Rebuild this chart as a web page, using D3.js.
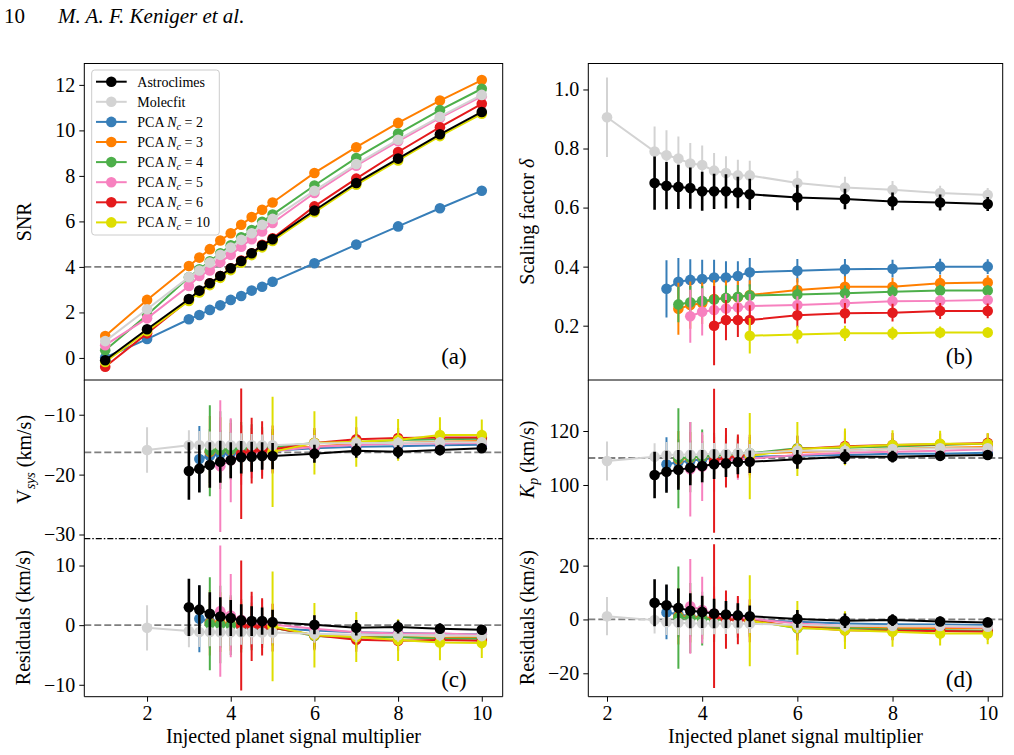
<!DOCTYPE html>
<html>
<head>
<meta charset="utf-8">
<script src="https://cdn.jsdelivr.net/npm/d3@7"></script>
<style>
    body { margin: 0; background: #fff; }
    text { font-family: "Liberation Serif", "DejaVu Serif", serif; fill: #000; }
</style>
</head>
<body>
<div id="chart"></div>
<script>

// ---- data ----
const snrMultipliers = [1, 2, 3, 3.25, 3.5, 3.75, 4, 4.25, 4.5, 4.75, 5, 6, 7, 8, 9, 10];
const multipliers = [2, 3, 3.25, 3.5, 3.75, 4, 4.25, 4.5, 4.75, 5, 6, 7, 8, 9, 10];

const seriesNames = ['Astroclimes', 'Molecfit', 'PCA', 'PCA', 'PCA', 'PCA', 'PCA', 'PCA'];
const pcaComponents = [null, null, 2, 3, 4, 5, 6, 10];
const seriesColors = ['#000000', '#d3d3d3', '#377eb8', '#ff7f00', '#4daf4a', '#f781bf', '#e41a1c', '#dede00'];
const seriesStart = [3, 2, 3.25, 3.5, 3.5, 3.75, 4.25, 5];

// (a) SNR, one row per series, on snrMultipliers
const snrValues = [
    [-0.10, 1.26, 2.59, 2.96, 3.28, 3.60, 3.94, 4.26, 4.60, 4.94, 5.22, 6.48, 7.69, 8.76, 9.83, 10.81],
    [0.74, 2.14, 3.55, 3.84, 4.19, 4.53, 4.85, 5.19, 5.48, 5.85, 6.11, 7.35, 8.52, 9.59, 10.60, 11.56],
    [0.02, 0.83, 1.70, 1.89, 2.11, 2.31, 2.55, 2.72, 2.96, 3.13, 3.35, 4.16, 4.98, 5.78, 6.58, 7.35],
    [0.96, 2.55, 4.04, 4.41, 4.78, 5.16, 5.48, 5.85, 6.19, 6.51, 6.83, 8.13, 9.26, 10.33, 11.31, 12.21],
    [0.34, 1.89, 3.55, 3.90, 4.25, 4.60, 4.95, 5.30, 5.62, 5.98, 6.30, 7.58, 8.79, 9.86, 10.89, 11.83],
    [0.56, 1.74, 3.16, 3.60, 3.84, 4.21, 4.53, 4.89, 5.22, 5.56, 5.93, 7.25, 8.45, 9.52, 10.55, 11.50],
    [-0.39, 1.08, 2.55, 2.91, 3.28, 3.60, 3.94, 4.28, 4.60, 4.97, 5.26, 6.66, 7.88, 9.05, 10.14, 11.17],
    [-0.18, 1.18, 2.50, 2.88, 3.20, 3.52, 3.86, 4.18, 4.52, 4.86, 5.14, 6.40, 7.61, 8.68, 9.75, 10.73]
];

// (b) scaling factor
const deltaValues = [
    [0.683, 0.674, 0.670, 0.666, 0.655, 0.655, 0.655, 0.651, 0.645, 0.634, 0.629, 0.621, 0.617, 0.612],
    [0.906, 0.790, 0.777, 0.766, 0.749, 0.744, 0.725, 0.717, 0.709, 0.709, 0.683, 0.668, 0.660, 0.649, 0.643],
    [0.325, 0.349, 0.355, 0.358, 0.363, 0.363, 0.368, 0.381, 0.386, 0.391, 0.393, 0.400, 0.400],
    [0.257, 0.270, 0.276, 0.290, 0.293, 0.296, 0.304, 0.321, 0.332, 0.332, 0.344, 0.346],
    [0.272, 0.279, 0.284, 0.289, 0.294, 0.298, 0.302, 0.306, 0.310, 0.315, 0.319, 0.319],
    [0.232, 0.247, 0.253, 0.258, 0.262, 0.267, 0.270, 0.276, 0.283, 0.284, 0.287],
    [0.200, 0.219, 0.219, 0.219, 0.235, 0.242, 0.244, 0.250, 0.250],
    [0.166, 0.170, 0.174, 0.174, 0.177, 0.177]
];
const deltaErrors = [
    [0.09, 0.08, 0.075, 0.07, 0.066, 0.06, 0.058, 0.053, 0.053, 0.043, 0.035, 0.03, 0.027, 0.024],
    [0.135, 0.085, 0.085, 0.075, 0.07, 0.066, 0.06, 0.057, 0.053, 0.05, 0.042, 0.036, 0.03, 0.025, 0.023],
    [0.097, 0.08, 0.07, 0.065, 0.06, 0.055, 0.05, 0.048, 0.04, 0.035, 0.03, 0.027, 0.025],
    [0.088, 0.08, 0.07, 0.065, 0.06, 0.055, 0.05, 0.04, 0.035, 0.03, 0.028, 0.025],
    [0.06, 0.055, 0.05, 0.045, 0.042, 0.04, 0.038, 0.03, 0.026, 0.022, 0.02, 0.018],
    [0.09, 0.08, 0.06, 0.05, 0.045, 0.04, 0.03, 0.026, 0.022, 0.02, 0.018],
    [0.134, 0.068, 0.057, 0.05, 0.04, 0.035, 0.03, 0.027, 0.025],
    [0.06, 0.03, 0.026, 0.022, 0.02, 0.018]
];

// (c) systemic velocity and its residuals
const vsysValues = [
    [-19.4, -19.0, -18.4, -17.85, -17.6, -17.1, -17.0, -16.9, -16.9, -16.5, -16.0, -16.2, -15.9, -15.6],
    [-15.9, -15.1, -15.1, -15.1, -15.1, -15.1, -15.1, -15.1, -15.1, -15.1, -14.8, -14.7, -14.7, -14.6, -14.6],
    [-17.4, -16.9, -16.6, -16.4, -16.2, -16.1, -16.0, -16.0, -15.6, -15.35, -15.25, -15.1, -15.0],
    [-16.2, -15.9, -15.9, -15.8, -15.7, -15.6, -15.6, -15.35, -14.8, -14.7, -14.5, -14.4],
    [-16.0, -15.9, -15.8, -15.7, -15.6, -15.5, -15.4, -14.7, -14.6, -14.2, -14.1, -14.0],
    [-18.6, -17.6, -16.7, -16.2, -16.2, -16.1, -15.35, -15.07, -14.8, -14.8, -14.7],
    [-16.5, -16.0, -15.9, -15.8, -14.7, -14.1, -13.9, -13.8, -13.8],
    [-16.2, -14.7, -14.5, -14.2, -13.4, -13.4]
];
const vsysErrors = [
    [4.8, 4.0, 3.8, 3.5, 3.0, 2.7, 2.5, 2.3, 2.2, 1.5, 1.2, 1.1, 0.9, 0.8],
    [3.8, 2.5, 2.4, 2.3, 2.2, 2.1, 2.0, 1.9, 1.8, 1.7, 1.4, 1.2, 1.0, 0.9, 0.8],
    [5.5, 4.5, 4.0, 3.5, 3.0, 2.7, 2.4, 2.2, 1.5, 1.2, 1.0, 0.9, 0.8],
    [6.0, 5.5, 4.5, 4.0, 3.5, 3.0, 2.8, 2.0, 1.6, 1.4, 1.2, 1.0],
    [7.6, 6.5, 5.0, 4.5, 4.0, 3.5, 3.0, 2.2, 1.8, 1.5, 1.3, 1.1],
    [11.0, 7.0, 5.0, 4.4, 4.0, 3.5, 2.3, 1.8, 1.5, 1.3, 1.1],
    [10.9, 5.5, 4.8, 4.0, 2.5, 2.0, 1.7, 1.5, 1.3],
    [9.2, 5.3, 4.2, 3.5, 3.0, 2.6]
];
const vsysResValues = [
    [3.0, 2.6, 1.9, 1.46, 1.2, 0.8, 0.68, 0.68, 0.5, 0.06, -0.44, -0.3, -0.6, -0.78],
    [-0.45, -1.0, -1.15, -1.15, -1.2, -1.2, -1.2, -1.2, -1.25, -1.25, -1.45, -1.6, -1.7, -1.7, -1.8],
    [1.07, 0.62, 0.23, 0.06, -0.2, -0.4, -0.4, -0.5, -0.9, -1.17, -1.3, -1.45, -1.57],
    [0.4, 0.5, 0.2, 0.0, -0.2, -0.3, -0.4, -1.7, -2.0, -2.0, -2.1, -2.0],
    [0.23, 0.1, 0.0, -0.1, -0.2, -0.3, -0.4, -1.8, -2.1, -2.0, -2.3, -2.3],
    [2.35, 1.6, 0.9, 0.5, 0.2, 0.1, -0.6, -1.17, -1.4, -1.4, -1.6],
    [-0.06, -0.2, -0.3, -0.4, -1.7, -2.46, -2.6, -2.5, -2.6],
    [-0.2, -1.7, -2.0, -2.5, -2.9, -3.0]
];
const vsysResErrors = [
    [4.8, 4.1, 3.6, 3.2, 3.0, 2.7, 2.5, 2.3, 2.1, 1.6, 1.3, 1.1, 0.9, 0.8],
    [3.8, 2.7, 2.5, 2.4, 2.3, 2.2, 2.1, 2.0, 1.9, 1.8, 1.5, 1.3, 1.1, 1.0, 0.9],
    [5.6, 4.5, 4.0, 3.5, 3.0, 2.7, 2.4, 2.2, 1.5, 1.2, 1.0, 0.9, 0.8],
    [5.5, 5.0, 4.5, 4.0, 3.5, 3.0, 2.8, 2.0, 1.6, 1.4, 1.2, 1.0],
    [7.8, 6.5, 5.0, 4.5, 4.0, 3.5, 3.0, 2.2, 1.8, 1.5, 1.3, 1.1],
    [11.0, 7.0, 5.0, 4.4, 4.0, 3.5, 2.3, 1.8, 1.5, 1.3, 1.1],
    [10.9, 5.8, 4.8, 4.0, 2.5, 2.0, 1.7, 1.5, 1.3],
    [9.2, 5.4, 4.2, 3.5, 3.0, 2.5]
];

// (d) Kp and its residuals
const kpValues = [
    [103.7, 104.9, 105.6, 106.4, 107.0, 107.7, 108.0, 108.5, 108.6, 109.5, 110.5, 110.5, 110.8, 111.1],
    [108.9, 110.5, 111.1, 111.2, 111.3, 111.4, 111.6, 111.6, 111.8, 111.8, 112.7, 112.7, 113.3, 113.6, 113.6],
    [107.7, 108.4, 109.0, 109.5, 109.9, 110.1, 110.3, 110.5, 110.8, 111.1, 111.6, 111.6, 111.9],
    [109.5, 110.1, 110.5, 110.8, 111.1, 111.6, 111.6, 112.2, 112.7, 113.3, 113.8, 114.1],
    [109.9, 110.3, 110.6, 110.9, 111.2, 111.5, 111.8, 113.6, 113.8, 114.3, 114.8, 115.4],
    [105.8, 106.8, 108.0, 109.0, 109.5, 109.7, 111.1, 111.9, 112.3, 112.7, 113.2],
    [109.0, 110.1, 110.7, 111.1, 113.3, 114.4, 114.8, 115.1, 115.6],
    [110.7, 113.3, 114.1, 114.8, 115.3, 115.3]
];
const kpErrors = [
    [8.6, 7.8, 7.4, 6.5, 6.0, 5.5, 5.0, 4.5, 4.2, 3.5, 2.7, 2.2, 1.8, 1.6],
    [7.2, 5.0, 4.8, 4.6, 4.4, 4.2, 4.0, 3.8, 3.6, 3.4, 2.8, 2.3, 1.9, 1.6, 1.4],
    [10.0, 8.5, 7.5, 6.8, 6.0, 5.5, 5.0, 4.5, 3.5, 2.8, 2.3, 2.0, 1.8],
    [10.5, 9.5, 8.0, 7.0, 6.0, 5.5, 5.0, 4.0, 3.2, 2.7, 2.3, 2.0],
    [18.5, 13.0, 10.0, 8.5, 7.5, 6.5, 6.0, 4.5, 3.5, 3.0, 2.5, 2.2],
    [17.5, 12.7, 10.5, 9.0, 7.6, 7.0, 4.5, 3.5, 3.0, 2.5, 2.2],
    [26.7, 11.0, 8.0, 7.5, 5.0, 5.5, 4.5, 4.0, 3.5],
    [16.0, 10.0, 6.8, 5.5, 4.8, 4.0]
];
const kpResValues = [
    [6.2, 5.3, 4.3, 3.2, 2.8, 2.2, 1.86, 1.5, 1.2, 0.2, -0.5, -0.25, -0.75, -1.1],
    [1.2, -0.25, -1.0, -1.2, -1.4, -1.5, -1.5, -1.6, -1.6, -1.6, -2.1, -2.3, -2.4, -2.4, -2.7],
    [2.6, 1.9, 1.2, 0.8, 0.4, 0.1, 0.0, -0.25, -0.9, -1.5, -1.8, -1.9, -2.1],
    [1.2, 0.9, 0.6, 0.3, 0.1, -0.1, -0.2, -2.7, -3.0, -3.3, -3.3, -3.3],
    [0.7, 0.5, 0.3, 0.1, -0.1, -0.2, -0.3, -3.3, -3.3, -3.7, -4.0, -4.2],
    [4.9, 3.5, 2.2, 1.2, 0.7, 0.3, -1.5, -2.4, -2.4, -2.6, -3.0],
    [1.2, -0.05, -0.25, -0.5, -2.7, -4.0, -4.2, -4.3, -4.6],
    [-0.5, -3.1, -4.0, -4.6, -5.2, -5.2]
];
const kpResErrors = [
    [8.7, 7.7, 7.2, 6.5, 6.0, 5.5, 5.0, 4.5, 4.0, 3.3, 2.7, 2.2, 1.8, 1.6],
    [7.1, 5.0, 4.8, 4.6, 4.4, 4.2, 4.0, 3.8, 3.6, 3.4, 2.8, 2.3, 1.9, 1.6, 1.4],
    [10.0, 8.5, 7.5, 6.8, 6.0, 5.5, 5.0, 4.5, 3.5, 2.8, 2.3, 2.0, 1.8],
    [10.5, 9.5, 8.0, 7.0, 6.0, 5.5, 5.0, 4.0, 3.2, 2.7, 2.3, 2.0],
    [19.0, 13.0, 10.0, 8.5, 7.5, 6.5, 6.0, 4.5, 3.5, 3.0, 2.5, 2.2],
    [17.6, 12.4, 10.0, 8.5, 7.5, 7.0, 4.5, 3.5, 3.0, 2.5, 2.2],
    [26.7, 10.8, 9.0, 8.0, 5.0, 4.3, 3.5, 3.2, 3.0],
    [16.9, 10.0, 7.0, 5.5, 4.5, 4.0]
];

// ---- layout ----
const svgWidth = 1014;
const svgHeight = 755;

const leftCol = { x0: 84.3, x1: 502.7 };
const rightCol = { x0: 588.3, x1: 1002.7 };
const rowTop = { y0: 63.5, y1: 380 };
const rowMid = { y0: 380, y1: 538.7 };
const rowBot = { y0: 538.7, y1: 696.7 };

const markerRadius = 5.3;
const drawOrder = [2, 3, 4, 5, 6, 7, 1, 0];

const svg = d3.select('#chart').append('svg')
    .attr('width', svgWidth)
    .attr('height', svgHeight);

const xLeft = d3.scaleLinear().domain([0.5, 10.5]).range([leftCol.x0, leftCol.x1]);
const xRight = d3.scaleLinear().domain([1.607, 10.315]).range([rightCol.x0, rightCol.x1]);

const seriesX = i => multipliers.filter(m => m >= seriesStart[i]);

const panels = [
    { id: 'a', x: xLeft, row: rowTop, domain: [-0.97, 12.94], ticks: [0, 2, 4, 6, 8, 10, 12], fmt: d3.format('d'),
      values: snrValues, errors: null, xs: () => snrMultipliers, ref: 4 },
    { id: 'b', x: xRight, row: rowTop, domain: [0.016, 1.088], ticks: [0.2, 0.4, 0.6, 0.8, 1.0], fmt: d3.format('.1f'),
      values: deltaValues, errors: deltaErrors, xs: seriesX, ref: null },
    { id: 'c1', x: xLeft, row: rowMid, domain: [-30.7, -4.2], ticks: [-30, -20, -10], fmt: d3.format('d'),
      values: vsysValues, errors: vsysErrors, xs: seriesX, ref: -16.3 },
    { id: 'c2', x: xLeft, row: rowBot, domain: [-12, 14.5], ticks: [-10, 0, 10], fmt: d3.format('d'),
      values: vsysResValues, errors: vsysResErrors, xs: seriesX, ref: 0 },
    { id: 'd1', x: xRight, row: rowMid, domain: [80.1, 138.9], ticks: [100, 120], fmt: d3.format('d'),
      values: kpValues, errors: kpErrors, xs: seriesX, ref: 110 },
    { id: 'd2', x: xRight, row: rowBot, domain: [-28.7, 30], ticks: [-20, 0, 20], fmt: d3.format('d'),
      values: kpResValues, errors: kpResErrors, xs: seriesX, ref: 0 }
];

const defs = svg.append('defs');

panels.forEach(p => {

    const [xa, xb] = p.x.range();
    const y = d3.scaleLinear().domain(p.domain).range([p.row.y1, p.row.y0]);

    defs.append('clipPath')
        .attr('id', 'clip-' + p.id)
        .append('rect')
        .attr('x', xa)
        .attr('y', p.row.y0)
        .attr('width', xb - xa)
        .attr('height', p.row.y1 - p.row.y0);

    const g = svg.append('g').attr('clip-path', `url(#clip-${p.id})`);

    if (p.ref !== null) {
        g.append('line')
            .attr('x1', xa).attr('x2', xb)
            .attr('y1', y(p.ref)).attr('y2', y(p.ref))
            .attr('stroke', '#7f7f7f')
            .attr('stroke-width', 1.8)
            .attr('stroke-dasharray', '7,3');
    }

    drawOrder.forEach(i => {
        const xs = p.xs(i);
        const pts = xs.map((xv, k) => ({
            x: xv,
            v: p.values[i][k],
            e: p.errors ? p.errors[i][k] : 0
        }));
        const color = seriesColors[i];

        if (p.errors) {
            g.selectAll(null)
                .data(pts)
                .enter()
                .append('line')
                .attr('x1', d => p.x(d.x)).attr('x2', d => p.x(d.x))
                .attr('y1', d => y(d.v - d.e)).attr('y2', d => y(d.v + d.e))
                .attr('stroke', color)
                .attr('stroke-width', i === 0 ? 2.6 : 2);
        }

        g.append('path')
            .datum(pts)
            .attr('fill', 'none')
            .attr('stroke', color)
            .attr('stroke-width', 2)
            .attr('d', d3.line().x(d => p.x(d.x)).y(d => y(d.v)));

        g.selectAll(null)
            .data(pts)
            .enter()
            .append('circle')
            .attr('cx', d => p.x(d.x))
            .attr('cy', d => y(d.v))
            .attr('r', markerRadius)
            .attr('fill', color);
    });

    const axis = svg.append('g')
        .attr('transform', `translate(${xa},0)`)
        .call(d3.axisLeft(y).tickValues(p.ticks).tickFormat(p.fmt).tickSize(5).tickPadding(4).tickSizeOuter(0));
    axis.select('.domain').remove();
    axis.selectAll('text').style('font-size', '20px').style('font-family', '"Liberation Serif", serif');
    axis.selectAll('line').attr('stroke-width', 1);
});

// frames and separators
[leftCol, rightCol].forEach(c => {
    svg.append('rect')
        .attr('x', c.x0).attr('y', rowTop.y0)
        .attr('width', c.x1 - c.x0).attr('height', rowTop.y1 - rowTop.y0)
        .attr('fill', 'none').attr('stroke', '#000').attr('stroke-width', 1);
    svg.append('path')
        .attr('d', `M${c.x0},${rowMid.y0}V${rowBot.y1}H${c.x1}V${rowMid.y0}`)
        .attr('fill', 'none').attr('stroke', '#000').attr('stroke-width', 1);
    svg.append('line')
        .attr('x1', c.x0).attr('x2', c.x1)
        .attr('y1', rowBot.y0).attr('y2', rowBot.y0)
        .attr('stroke', '#000').attr('stroke-width', 1.2)
        .attr('stroke-dasharray', '6,2,1.5,2');
});

// bottom x axes
[xLeft, xRight].forEach(x => {
    const ax = svg.append('g')
        .attr('transform', `translate(0,${rowBot.y1})`)
        .call(d3.axisBottom(x).tickValues([2, 4, 6, 8, 10]).tickFormat(d3.format('d')).tickSize(5).tickPadding(4.5).tickSizeOuter(0));
    ax.select('.domain').remove();
    ax.selectAll('text').style('font-size', '20px').style('font-family', '"Liberation Serif", serif');

    const [a, b] = x.range();
    svg.append('text')
        .attr('x', (a + b) / 2)
        .attr('y', 743)
        .attr('text-anchor', 'middle')
        .style('font-size', '20px')
        .text('Injected planet signal multiplier');
});

// y axis labels
function yLabel(x, yc) {
    return svg.append('text')
        .attr('transform', `translate(${x},${yc}) rotate(-90)`)
        .attr('text-anchor', 'middle')
        .attr('dy', '0.35em')
        .style('font-size', '20px');
}

yLabel(24, (rowTop.y0 + rowTop.y1) / 2).text('SNR');

const sf = yLabel(527, (rowTop.y0 + rowTop.y1) / 2);
sf.append('tspan').text('Scaling factor ');
sf.append('tspan').style('font-style', 'italic').text('δ');

const vs = yLabel(24, (rowMid.y0 + rowMid.y1) / 2);
vs.append('tspan').text('V');
vs.append('tspan').style('font-style', 'italic').style('font-size', '14px').attr('dy', 4).text('sys');
vs.append('tspan').attr('dy', -4).text(' (km/s)');

const kp = yLabel(527, (rowMid.y0 + rowMid.y1) / 2);
kp.append('tspan').style('font-style', 'italic').text('K');
kp.append('tspan').style('font-style', 'italic').style('font-size', '14px').attr('dy', 4).text('p');
kp.append('tspan').attr('dy', -4).text(' (km/s)');

yLabel(23, (rowBot.y0 + rowBot.y1) / 2).text('Residuals (km/s)');
yLabel(527, (rowBot.y0 + rowBot.y1) / 2).text('Residuals (km/s)');

// panel letters
[['(a)', leftCol.x1 - 36, 364], ['(b)', rightCol.x1 - 30, 364],
 ['(c)', leftCol.x1 - 36, 687], ['(d)', rightCol.x1 - 30, 687]].forEach(([t, x, yy]) => {
    svg.append('text')
        .attr('x', x).attr('y', yy)
        .attr('text-anchor', 'end')
        .style('font-size', '23px')
        .text(t);
});

// legend
const legend = svg.append('g');
legend.append('rect')
    .attr('x', 91.7).attr('y', 70)
    .attr('width', 127.6).attr('height', 165)
    .attr('rx', 3)
    .attr('fill', '#fff').attr('fill-opacity', 0.8)
    .attr('stroke', '#cccccc').attr('stroke-width', 1);

seriesNames.forEach((name, i) => {
    const yy = 81.7 + i * 20.1;
    legend.append('line')
        .attr('x1', 96).attr('x2', 126.7)
        .attr('y1', yy).attr('y2', yy)
        .attr('stroke', seriesColors[i]).attr('stroke-width', 2);
    legend.append('circle')
        .attr('cx', 111.3).attr('cy', yy)
        .attr('r', markerRadius)
        .attr('fill', seriesColors[i]);
    const t = legend.append('text')
        .attr('x', 137.3).attr('y', yy)
        .attr('dy', '0.35em')
        .style('font-size', '14px');
    if (pcaComponents[i] === null) {
        t.text(name);
    } else {
        t.append('tspan').text(name + ' ');
        t.append('tspan').style('font-style', 'italic').text('N');
        t.append('tspan').style('font-style', 'italic').style('font-size', '10px').attr('dy', 3).text('c');
        t.append('tspan').attr('dy', -3).text(' = ' + pcaComponents[i]);
    }
});

// page header
svg.append('text')
    .attr('x', 4).attr('y', 23)
    .style('font-size', '21px')
    .text('10');
svg.append('text')
    .attr('x', 58).attr('y', 23)
    .style('font-size', '21px')
    .style('font-style', 'italic')
    .text('M. A. F. Keniger et al.');

</script>
</body>
</html>
